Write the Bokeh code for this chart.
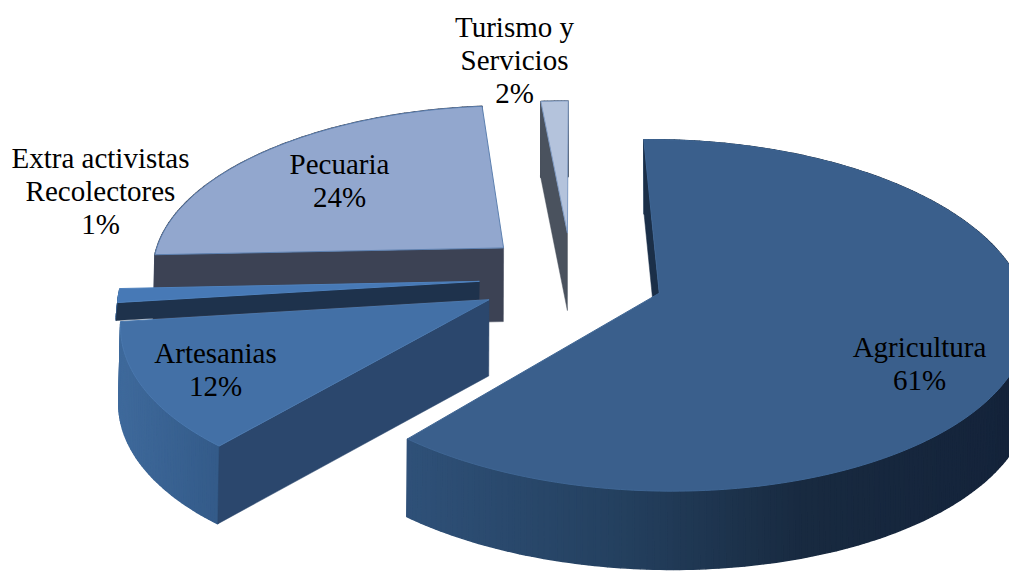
import numpy as np
from bokeh.plotting import figure
from bokeh.models import Range1d
from bokeh.core.properties import value
from bokeh.embed import file_html
from bokeh.resources import INLINE

# ---- data
names = ["Agricultura", "Artesanias", "Extra activistas\nRecolectores", "Pecuaria", "Turismo y\nServicios"]
shares = [61.5, 11.8, 1.3, 24.2, 1.5]
percent_labels = ["61%", "12%", "1%", "24%", "2%"]

# ---- styles
top_col = ["#3A5F8C", "#4370A6", "#4779B6", "#92A7CE", "#B4C3DC"]
edge_col = ["#3F6694", "#4A78AE", "#4F82BE", "#5D80B0", "#7F9BC4"]
cut_col = ["#1B2F48", "#2B476D", "#1E324C", "#3C4254", "#4A525E"]
wall_stops = [
    [(400, "#2F5179"), (620, "#24405F"), (800, "#182A40"), (1010, "#14233A")],
    [(115, "#3F6A9C"), (222, "#335A88")],
    [(115, "#3F6A9C"), (222, "#335A88")],
    [(150, "#4A5874"), (160, "#3C4254")],
    [(530, "#4A525E"), (570, "#4A525E")],
]
slice_depth = [76, 76, 18, 74, 78]
slice_radius = [1.0, 0.995, 0.99, 0.985, 0.93]
label_pos = [(919, 346), (215, 352), (100, 157), (339, 163), (514, 26)]
FONT = value("Liberation Serif")

# ---- projection of the tilted disc to the page
CX, CY, RX, RY, K = 571, 277, 360, 169, 0.125
EX, EY = 0.256, 0.272
START = -1.0


def proj(X, Y, depth=0):
    s = 1 / (1 + K * Y)
    x = CX + RX * X * s
    y = CY - RY * Y * s
    if depth:
        x = CX + (x - CX) * 1.004
        y = y + depth * s ** 0.2
    return x, y


def hexmix(stops, x):
    xs = [a for a, _ in stops]
    rgb = np.array([[int(c[i:i + 2], 16) for i in (1, 3, 5)] for _, c in stops], float)
    v = [np.interp(x, xs, rgb[:, i]) for i in range(3)]
    return "#%02x%02x%02x" % tuple(int(round(t)) for t in v)


p = figure(width=1009, height=572, output_backend="svg", toolbar_location=None,
           x_range=Range1d(0, 1009), y_range=Range1d(572, 0),
           min_border=0, outline_line_color=None, background_fill_color="white")
p.axis.visible = False
p.grid.visible = False

edges = START + np.cumsum([0] + shares) / 100 * 360
order = [4, 3, 2, 1, 0]  # far slices first

for i in order:
    a0, a1 = np.radians(edges[i]), np.radians(edges[i + 1])
    mid = (a0 + a1) / 2
    ax, ay = EX * np.sin(mid), EY * np.cos(mid)
    t = np.linspace(a0, a1, max(8, int(shares[i] * 4)) + 1)
    r = slice_radius[i]
    ox, oy = ax + r * np.sin(t), ay + r * np.cos(t)
    d = slice_depth[i]

    # outer wall, one strip per step, shaded by its place on the page
    for j in range(len(t) - 1):
        ua, va = proj(ox[j], oy[j])
        ub, vb = proj(ox[j + 1], oy[j + 1])
        da, ea = proj(ox[j], oy[j], d)
        db, eb = proj(ox[j + 1], oy[j + 1], d)
        c = hexmix(wall_stops[i], (ua + ub) / 2)
        p.patch([ua, ub, db, da], [va, vb, eb, ea], fill_color=c, line_color=c, line_width=1.5)

    # front cut face (apex to the first radius)
    ux0, uy0 = proj(ox[0], oy[0])
    dx0, dy0 = proj(ox[0], oy[0], d)
    uxa, uya = proj(ax, ay)
    dxa, dya = proj(ax, ay, d)
    p.patch([ux0, uxa, dxa, dx0], [uy0, uya, dya, dy0], fill_color=cut_col[i], line_color=cut_col[i], line_width=0.5)

    # top
    ux, uy = proj(ox, oy)
    p.patch([uxa, *ux], [uya, *uy], fill_color=top_col[i], line_color=edge_col[i], line_width=1)

for i, name in enumerate(names):
    lines = name.split("\n") + [percent_labels[i]]
    lx, ly = label_pos[i]
    for n, line in enumerate(lines):
        p.text([lx], [ly + n * 33.3], text=[line], text_font=FONT, text_font_size="29px",
               text_color="#000000", text_align="center", text_baseline="middle")

open("out.html", "w").write(file_html(p, INLINE))
